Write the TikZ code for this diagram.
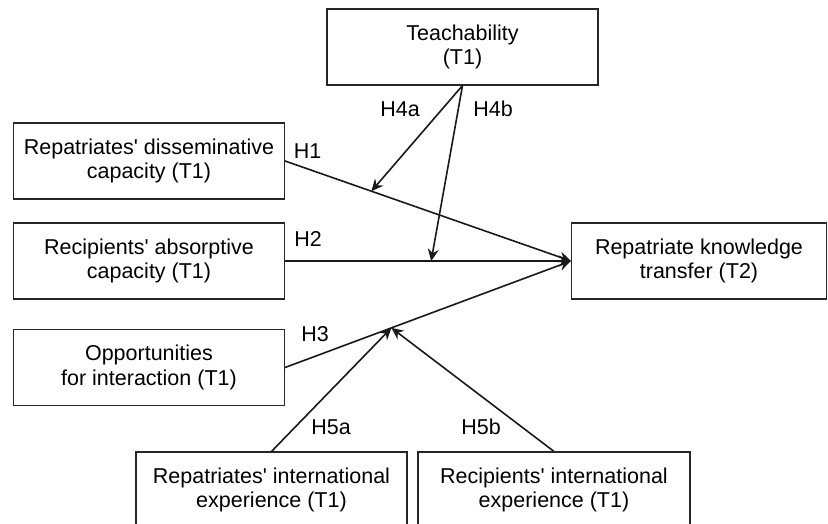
\documentclass[tikz,border=0pt]{standalone}
\usepackage{fontspec}
\setmainfont{Liberation Sans}
\usepackage{xcolor}
\usepackage{tikz}
\usetikzlibrary{positioning, arrows.meta, calc}

\newcommand{\apos}{\textquotesingle}

\begin{document}
\begin{tikzpicture}[
  x=1pt, y=-1pt,
  >={Stealth[length=12pt, width=11pt, inset=4pt]},
  box/.style={draw=black!85, line width=1.1pt, minimum width=271pt, minimum height=76pt,
              align=center, inner sep=0pt,
              font=\fontsize{21.5}{24.5}\selectfont},
  hyp/.style={anchor=base, inner sep=0pt, font=\fontsize{21.5}{24.5}\selectfont},
  link/.style={->, line width=1.6pt, black!90},
]
  \useasboundingbox (0,0) rectangle (828,524);

  % predictors
  \node[box] (dissem) at (149,161) {Repatriates\apos{} disseminative\\capacity (T1)};
  \node[box] (absorp) at (149,261) {Recipients\apos{} absorptive\\capacity (T1)};
  \node[box] (opport) at (149,367.5) {Opportunities\\for interaction (T1)};
  \node[box, minimum width=255pt] (transfer) at (699,261) {Repatriate knowledge\\transfer (T2)};

  % moderators
  \node[box] (teach) at (462.5,47) {Teachability\\(T1)};
  \node[box] (repint) at (271.5,490) {Repatriates\apos{} international\\experience (T1)};
  \node[box, minimum width=272pt] (recint) at (554,490) {Recipients\apos{} international\\experience (T1)};

  % main effects
  \draw[link] (dissem.east) -- (transfer.west);
  \draw[link] (absorp.east) -- (transfer.west);
  \draw[link] (opport.east) -- (transfer.west);

  % points where moderators hit the paths
  \coordinate (m4a) at ($(dissem.east)!0.302!(transfer.west)$);
  \coordinate (m4b) at ($(absorp.east)!0.511!(transfer.west)$);
  \coordinate (m5) at ($(opport.east)!0.372!(transfer.west)$);

  \draw[link] (teach.south) -- (m4a);
  \draw[link] (teach.south) -- (m4b);
  \draw[link] (repint.north) -- (m5);
  \draw[link] (recint.north) -- (m5);

  % hypothesis labels
  \node[hyp] (h1) at (307.5,158.3) {H1};
  \node[hyp] (h2) at (308,246.7) {H2};
  \node[hyp] (h3) at (315,341.7) {H3};
  \node[hyp] (h4a) at (400,116.7) {H4a};
  \node[hyp] (h4b) at (493,116.7) {H4b};
  \node[hyp] (h5a) at (331,434) {H5a};
  \node[hyp] (h5b) at (481,434) {H5b};
\end{tikzpicture}
\end{document}
